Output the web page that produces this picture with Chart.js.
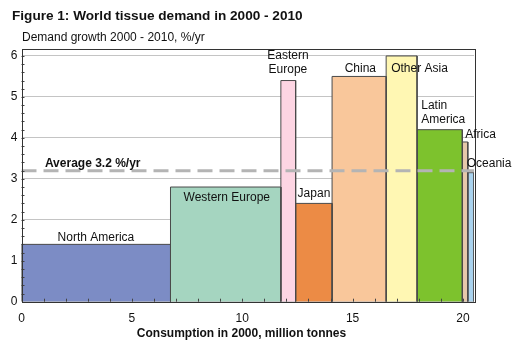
<!DOCTYPE html>
<html>
<head>
<meta charset="utf-8">
<script src="https://cdn.jsdelivr.net/npm/chart.js@4/dist/chart.umd.min.js"></script>
<style>
  body { margin: 0; background: #fff; }
  #wrap { width: 524px; height: 354px; }
</style>
</head>
<body>
<div id="wrap"><canvas id="grafico" width="524" height="354"></canvas></div>
<script>
// region data
const regions = ['North America', 'Western Europe', 'Eastern Europe', 'Japan', 'China',
                 'Other Asia', 'Latin America', 'Africa', 'Oceania'];
const consumption = [6.75, 5.0, 0.67, 1.65, 2.45, 1.4, 2.05, 0.25, 0.28];   // million tonnes, 2000
const growth = [1.4, 2.8, 5.4, 2.4, 5.5, 6.0, 4.2, 3.9, 3.15];               // %/yr, 2000-2010
const averageGrowth = 3.2;
const xTickValues = [0, 5, 10, 15, 20];
const yTickValues = [0, 1, 2, 3, 4, 5, 6];

const cores = ['#7c8cc5', '#a5d5c0', '#fdd5e3', '#ec8b45', '#f9c79b',
               '#fff7b3', '#7dc22d', '#e5c8aa', '#aad3ee'];

// where the region names sit (data units) and how they are aligned
const etiquetas = [
    { lines: ['North America'], x: 3.37, y: 1.56, align: 'center' },
    { lines: ['Western Europe'], x: 9.30, y: 2.53, align: 'center' },
    { lines: ['Eastern', 'Europe'], x: 12.07, y: 6.01, align: 'center' },
    { lines: ['Japan'], x: 13.25, y: 2.63, align: 'center' },
    { lines: ['China'], x: 15.35, y: 5.68, align: 'center' },
    { lines: ['Other Asia'], x: 18.03, y: 5.68, align: 'center' },
    { lines: ['Latin', 'America'], x: 18.11, y: 4.79, align: 'left' },
    { lines: ['Africa'], x: 20.10, y: 4.08, align: 'left' },
    { lines: ['Oceania'], x: 20.17, y: 3.37, align: 'left' }
];

const FONTE = '"Liberation Sans", Arial, Helvetica, sans-serif';
Chart.defaults.font.family = FONTE;
Chart.defaults.color = '#111';

const totalX = consumption.reduce((a, b) => a + b, 0);

// one closed outline per region, filled down to zero
var inicio = 0;
const datasets = regions.map(function (nome, i) {
    var x0 = inicio;
    var x1 = inicio + consumption[i];
    inicio = x1;
    return {
        label: nome,
        data: [{x: x0, y: 0}, {x: x0, y: growth[i]}, {x: x1, y: growth[i]}, {x: x1, y: 0}],
        showLine: true,
        fill: 'origin',
        backgroundColor: cores[i],
        borderColor: '#4a4a4a',
        borderWidth: 1,
        pointRadius: 0,
        tension: 0,
        order: 2
    };
});

datasets.push({
    label: 'Average',
    data: [{x: 0, y: averageGrowth}, {x: totalX, y: averageGrowth}],
    showLine: true,
    fill: false,
    borderColor: '#b4b4b4',
    borderWidth: 3,
    borderDash: [15, 7],
    pointRadius: 0,
    order: 0
});

const extras = {
    id: 'extras',
    afterDraw(chart) {
        const ctx = chart.ctx;
        const a = chart.chartArea;
        const sx = chart.scales.x;
        const sy = chart.scales.y;

        ctx.save();

        // minor ticks inside the frame
        ctx.strokeStyle = '#444';
        ctx.lineWidth = 1;
        ctx.beginPath();
        for (let v = 0.2; v < 6.1; v += 0.2) {
            let py = Math.round(sy.getPixelForValue(v)) + 0.5;
            ctx.moveTo(a.left, py);
            ctx.lineTo(a.left + 3, py);
        }
        for (let v = 1; v <= 20; v++) {
            let px = Math.round(sx.getPixelForValue(v)) + 0.5;
            ctx.moveTo(px, a.bottom);
            ctx.lineTo(px, a.bottom - 3);
        }
        ctx.stroke();

        // frame
        ctx.strokeStyle = '#333';
        ctx.strokeRect(Math.round(a.left) + 0.5, Math.round(a.top) + 0.5,
                       Math.round(a.right - a.left), Math.round(a.bottom - a.top));

        // region names
        ctx.fillStyle = '#111';
        ctx.font = '12px ' + FONTE;
        ctx.textBaseline = 'middle';
        etiquetas.forEach(function (e) {
            ctx.textAlign = e.align;
            let px = sx.getPixelForValue(e.x);
            let py = sy.getPixelForValue(e.y);
            e.lines.forEach(function (t, k) {
                ctx.fillText(t, px, py + k * 14.5);
            });
        });

        // average label
        ctx.font = 'bold 12px ' + FONTE;
        ctx.textAlign = 'left';
        ctx.fillText('Average ' + averageGrowth + ' %/yr', sx.getPixelForValue(1.06), sy.getPixelForValue(3.37));

        // titles
        ctx.font = 'bold 13.6px ' + FONTE;
        ctx.fillText('Figure 1: World tissue demand in 2000 - 2010', 12, 16);
        ctx.font = '12px ' + FONTE;
        ctx.fillText('Demand growth 2000 - 2010, %/yr', 22, 38);
        ctx.font = 'bold 12px ' + FONTE;
        ctx.textAlign = 'center';
        ctx.fillText('Consumption in 2000, million tonnes', 241.5, 334);

        ctx.restore();
    }
};

new Chart(document.getElementById('grafico').getContext('2d'), {
    type: 'scatter',
    data: { datasets: datasets },
    options: {
        responsive: false,
        animation: false,
        events: [],
        layout: { padding: { top: 49, right: 50, left: 0, bottom: 0 } },
        plugins: {
            legend: { display: false },
            tooltip: { enabled: false },
            title: { display: false }
        },
        scales: {
            x: {
                type: 'linear',
                min: 0,
                max: totalX,
                grid: { display: false, drawTicks: false },
                border: { display: false },
                ticks: { stepSize: 5, padding: 10, maxRotation: 0, font: { size: 12 }, color: '#111' },
                afterBuildTicks: function (s) {
                    s.ticks = xTickValues.map(v => ({ value: v }));
                },
                afterFit: function (s) { s.height = 52.3; }
            },
            y: {
                type: 'linear',
                min: 0,
                max: 6.17,
                z: 1,
                grid: { color: '#c4c4c4', lineWidth: 1, drawTicks: false },
                border: { display: false },
                ticks: { stepSize: 1, padding: 4, font: { size: 12 }, color: '#111' },
                afterBuildTicks: function (s) {
                    s.ticks = yTickValues.map(v => ({ value: v }));
                },
                afterFit: function (s) { s.width = 21.5; }
            }
        }
    },
    plugins: [extras]
});
</script>
</body>
</html>
